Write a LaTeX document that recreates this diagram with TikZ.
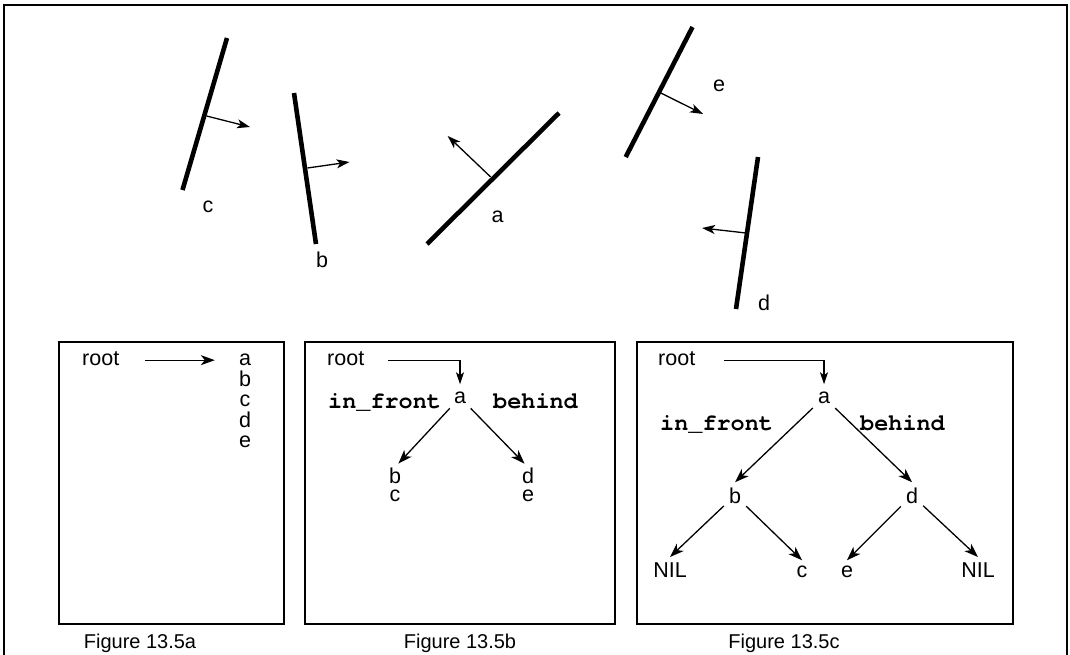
\documentclass[tikz,border=0pt]{standalone}
\usepackage{fontspec}
\setmainfont{Liberation Sans}
\setmonofont{TeX Gyre Cursor}
\usetikzlibrary{arrows.meta}
\begin{document}
\begin{tikzpicture}[x=1pt,y=-1pt,
  seg/.style={line width=4.6pt},
  nrm/.style={line width=1.3pt,-{Stealth[length=13pt,width=9pt,inset=3.5pt]}},
  arr/.style={line width=1.3pt,-{Stealth[length=14pt,width=10pt,inset=4pt]}},
  elb/.style={line width=1.2pt,-{Stealth[length=12pt,width=8pt,inset=3pt]}},
  box/.style={draw,line width=1.6pt},
  lbl/.style={font=\fontsize{21.5}{22}\selectfont,inner sep=5pt,anchor=base},
  tlbl/.style={font=\fontsize{21.5}{22}\selectfont,inner sep=0pt},
  kw/.style={font=\fontsize{23.5}{24}\selectfont\ttfamily\bfseries,inner sep=0pt,anchor=base west},
  captxt/.style={font=\fontsize{20}{22}\selectfont,inner sep=0pt,anchor=base}]
\useasboundingbox (0,0) rectangle (1070,654);
\fill[white] (0,0) rectangle (1070,654);
% outer frame
\draw[line width=1.5pt] (4,660) -- (4,5) -- (1067,5) -- (1067,660);

% ---- top: polygons with normals ----
\draw[seg] (227,38) -- (182.5,190);
\draw[nrm] (206.6,116) -- (250,127);
\node[tlbl] (lc) at (208,207) {c};

\draw[seg] (294,93) -- (316,244);
\draw[nrm] (307.5,168) -- (349.5,162);
\node[tlbl] (lb) at (322,260) {b};

\draw[seg] (427,244) -- (559,113);
\draw[nrm] (490.7,177) -- (447.7,136);
\node[tlbl] (la) at (497.6,217) {a};

\draw[seg] (692.5,27) -- (625.7,157);
\draw[nrm] (660.9,93) -- (703,114);
\node[tlbl] (le) at (719,86) {e};

\draw[seg] (758,157) -- (736,309);
\draw[nrm] (746,233) -- (702,228);
\node[tlbl] (ld) at (764,303) {d};

% ---- boxes ----
\draw[box] (59,342) rectangle (284,624);
\draw[box] (305,342) rectangle (615,624);
\draw[box] (637,342) rectangle (1013,624);

% ---- Figure 13.5a ----
\node[lbl,anchor=base west,inner sep=0pt] (ra) at (82,365) {root};
\node[lbl,inner sep=0pt] (aa) at (245,365) {a};
\node[lbl,inner sep=0pt] (ab) at (245,386) {b};
\node[lbl,inner sep=0pt] (ac) at (245,406) {c};
\node[lbl,inner sep=0pt] (ad) at (245,427) {d};
\node[lbl,inner sep=0pt] (ae) at (245,447) {e};
\draw[arr] ([xshift=26pt,yshift=-2pt]ra.east) -- ([xshift=-24pt,yshift=-2pt]ra.east -| aa.west);
\node[captxt] (fa) at (140,648) {Figure 13.5a};

% ---- Figure 13.5b ----
\node[lbl,anchor=base west,inner sep=0pt] (rb) at (327,365) {root};
\node[lbl] (ba) at (460,403) {a};
\node[lbl,inner sep=0pt] (bb) at (395,483) {b};
\node[lbl,inner sep=0pt] (bc) at (395,501) {c};
\node[lbl,inner sep=0pt] (bd) at (528,483) {d};
\node[lbl,inner sep=0pt] (be) at (528,501) {e};
\node[kw] (bif) at (328,408) {in\_front};
\node[kw] (bbh) at (493,408) {behind};
\draw[elb] ([xshift=24pt,yshift=-2pt]rb.east) -| ([yshift=2pt]ba.north);
\draw[arr,shorten >=5pt] (ba) -- (bb.north);
\draw[arr,shorten >=5pt] (ba) -- (bd.north);
\node[captxt] (fb) at (460,648) {Figure 13.5b};

% ---- Figure 13.5c ----
\node[lbl,anchor=base west,inner sep=0pt] (rc) at (658,365) {root};
\node[lbl] (ca) at (824,403) {a};
\node[lbl] (cb) at (735,503) {b};
\node[lbl] (cd) at (912,503) {d};
\node[lbl] (cn1) at (670,577) {NIL};
\node[lbl] (cc) at (802,577) {c};
\node[lbl] (ce) at (847,577) {e};
\node[lbl] (cn2) at (978,577) {NIL};
\node[kw] (cif) at (660,430) {in\_front};
\node[kw] (cbh) at (860,430) {behind};
\draw[elb] ([xshift=29pt,yshift=-2pt]rc.east) -| ([yshift=2pt]ca.north);
\draw[arr] (ca) -- (cb.north);
\draw[arr] (ca) -- (cd.north);
\draw[arr] (cb) -- (cn1.north);
\draw[arr] (cb) -- (cc.north);
\draw[arr] (cd) -- (ce.north);
\draw[arr] (cd) -- (cn2.north);
\node[captxt] (fc) at (784,648) {Figure 13.5c};
\end{tikzpicture}
\end{document}
